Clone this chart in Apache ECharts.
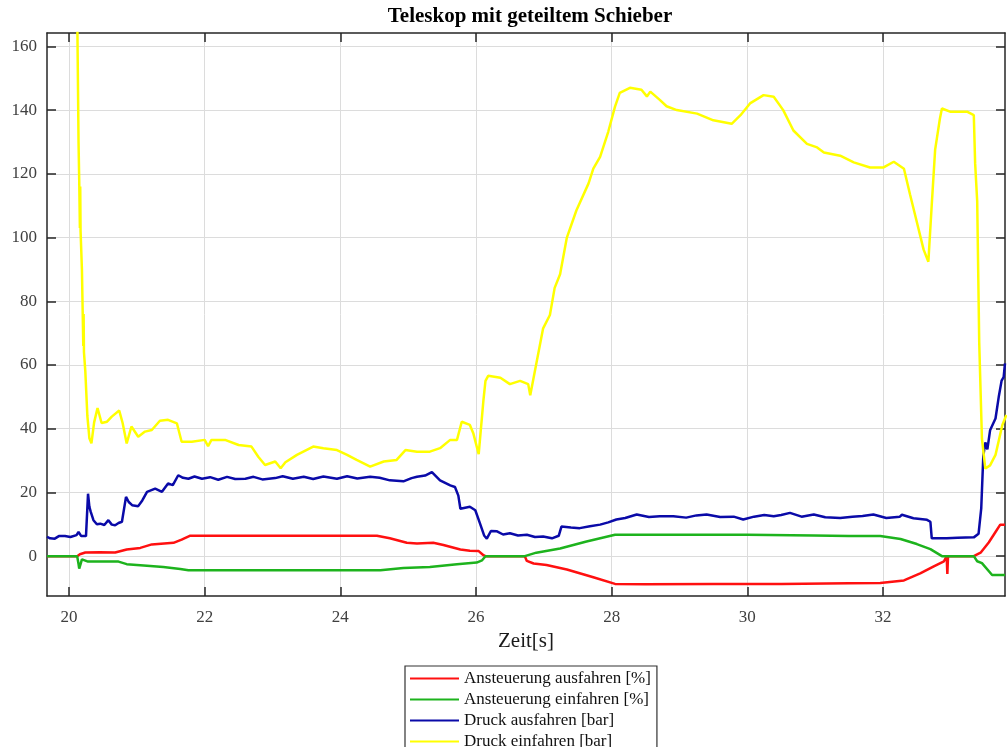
<!DOCTYPE html>
<html>
<head>
<meta charset="utf-8">
<script src="https://cdn.jsdelivr.net/npm/echarts@6/dist/echarts.min.js"></script>
<style>
html,body{margin:0;padding:0;background:#fff;}
#chart{width:1007px;height:747px;}
</style>
</head>
<body>
<div id="chart"></div>
<script>
const titleText = 'Teleskop mit geteiltem Schieber';
const xAxisName = 'Zeit[s]';
const seriesNames = ['Ansteuerung ausfahren [%]', 'Ansteuerung einfahren [%]', 'Druck ausfahren [bar]', 'Druck einfahren [bar]'];
const xTicks = [20, 22, 24, 26, 28, 30, 32];
const yTicks = [0, 20, 40, 60, 80, 100, 120, 140, 160];
const xRange = [19.675, 33.8];
const yRange = [-12.5, 164.2];

const redData = [[19.675,0],[20.12,0],[20.16,0.6],[20.24,1.15],[20.45,1.2],[20.68,1.15],[20.85,2.1],[21.05,2.6],[21.22,3.7],[21.54,4.2],[21.66,5.2],[21.78,6.4],[22.5,6.4],[23.5,6.4],[24.54,6.4],[24.73,5.6],[24.98,4.2],[25.13,4.0],[25.37,4.2],[25.52,3.5],[25.77,2.1],[25.91,1.7],[26.04,1.6],[26.11,0.3],[26.14,0],[26.72,0],[26.75,-1.5],[26.85,-2.3],[27.04,-2.8],[27.34,-4.2],[27.73,-6.6],[28.05,-8.7],[28.5,-8.8],[29.5,-8.7],[30.5,-8.7],[31.5,-8.5],[31.96,-8.4],[32.31,-7.6],[32.55,-5.4],[32.75,-3.2],[32.9,-1.6],[32.94,0],[32.95,-5.6],[32.96,0],[33.34,0],[33.44,1.1],[33.56,4.3],[33.66,7.6],[33.73,9.9],[33.8,9.9]];

const greenData = [[19.675,0],[20.12,0],[20.14,-2.5],[20.15,-3.9],[20.17,-2.5],[20.19,-1.0],[20.28,-1.7],[20.73,-1.7],[20.85,-2.5],[21.1,-2.9],[21.39,-3.4],[21.64,-4.0],[21.76,-4.4],[22.5,-4.4],[23.5,-4.4],[24.59,-4.4],[24.93,-3.7],[25.32,-3.4],[25.72,-2.5],[26.01,-2.0],[26.09,-1.3],[26.14,0],[26.72,0],[26.89,1.1],[27.24,2.4],[27.63,4.6],[28.05,6.7],[29.0,6.7],[30.0,6.7],[30.98,6.5],[31.5,6.3],[31.96,6.3],[32.26,5.4],[32.5,3.8],[32.7,2.2],[32.87,0],[33.34,0],[33.39,-1.6],[33.46,-2.2],[33.61,-5.9],[33.8,-5.9]];

const blueData = [[19.675,6.1],[19.72,5.6],[19.79,5.5],[19.85,6.3],[19.94,6.3],[20.02,6.0],[20.11,6.6],[20.14,7.6],[20.18,6.3],[20.25,6.3],[20.28,19.6],[20.30,15.5],[20.32,13.9],[20.36,11.3],[20.41,10.0],[20.46,10.2],[20.52,9.8],[20.58,11.3],[20.63,9.9],[20.68,9.7],[20.73,10.4],[20.78,10.8],[20.84,18.6],[20.88,17.0],[20.93,16.0],[21.02,15.7],[21.08,17.5],[21.15,20.2],[21.27,21.2],[21.37,20.2],[21.46,22.8],[21.53,22.3],[21.61,25.4],[21.68,24.6],[21.76,24.3],[21.85,25.0],[21.96,24.3],[22.08,24.8],[22.2,24.0],[22.33,24.9],[22.45,24.2],[22.6,24.3],[22.72,24.9],[22.85,24.1],[23.04,24.5],[23.15,25.1],[23.3,24.3],[23.46,24.9],[23.6,24.2],[23.75,25.0],[23.95,24.3],[24.1,25.1],[24.25,24.4],[24.44,24.9],[24.58,24.6],[24.73,23.8],[24.93,23.5],[25.05,24.5],[25.13,24.9],[25.25,25.3],[25.35,26.4],[25.47,23.8],[25.62,22.2],[25.69,21.7],[25.74,19.0],[25.77,14.9],[25.91,15.5],[25.99,14.4],[26.06,10.2],[26.12,6.5],[26.16,5.5],[26.22,7.9],[26.31,7.8],[26.4,6.8],[26.5,7.2],[26.62,6.5],[26.75,6.7],[26.87,6.0],[26.99,6.2],[27.12,5.6],[27.22,6.4],[27.26,9.3],[27.4,9.0],[27.53,8.8],[27.68,9.4],[27.83,9.9],[27.95,10.6],[28.07,11.5],[28.2,12.0],[28.37,13.1],[28.55,12.3],[28.71,12.5],[28.91,12.5],[29.1,12.1],[29.25,12.8],[29.4,13.1],[29.6,12.3],[29.8,12.4],[29.94,11.5],[30.1,12.4],[30.25,12.9],[30.39,12.5],[30.5,12.9],[30.63,13.6],[30.8,12.4],[30.98,13.1],[31.15,12.2],[31.37,12.0],[31.55,12.4],[31.7,12.6],[31.86,13.1],[32.05,12.0],[32.25,12.4],[32.28,13.0],[32.45,11.9],[32.65,11.4],[32.70,10.8],[32.72,5.6],[32.94,5.6],[33.1,5.8],[33.34,5.9],[33.41,7.0],[33.45,15.1],[33.48,31.4],[33.51,35.7],[33.54,33.5],[33.58,39.5],[33.66,43.2],[33.71,50.3],[33.75,55.1],[33.78,56.2],[33.8,60.5]];

const yellowData = [[20.12,172],[20.14,130],[20.15,118],[20.16,103],[20.165,116],[20.17,102],[20.19,90],[20.21,66],[20.215,76],[20.22,64],[20.24,58],[20.27,44],[20.3,37],[20.33,35.4],[20.37,42],[20.42,46.5],[20.48,41.8],[20.56,42.2],[20.63,43.8],[20.74,45.7],[20.79,41.8],[20.85,35.4],[20.92,40.7],[21.02,37.5],[21.12,39.1],[21.22,39.6],[21.34,42.5],[21.46,42.8],[21.59,41.7],[21.66,35.9],[21.81,35.9],[22.0,36.5],[22.05,34.5],[22.1,36.5],[22.3,36.5],[22.5,34.9],[22.69,34.4],[22.79,31.2],[22.89,28.6],[23.04,29.7],[23.12,27.6],[23.19,29.5],[23.36,31.8],[23.6,34.4],[23.75,33.9],[23.95,33.3],[24.1,31.8],[24.24,30.2],[24.44,28.1],[24.64,29.7],[24.83,30.2],[24.96,33.3],[25.13,32.8],[25.32,32.8],[25.47,33.9],[25.62,36.5],[25.72,36.5],[25.79,42.2],[25.91,41.2],[25.96,38.6],[26.04,32],[26.11,49],[26.14,55],[26.18,56.6],[26.36,56],[26.5,54],[26.65,55],[26.77,54],[26.8,50.5],[26.89,60.5],[26.99,71.5],[27.09,75.7],[27.16,84.2],[27.24,88.5],[27.34,100],[27.48,108.5],[27.66,117],[27.73,121.6],[27.83,125.3],[27.95,133.2],[28.05,141.1],[28.12,145.4],[28.27,147],[28.44,146.4],[28.52,144.3],[28.57,145.8],[28.71,143.2],[28.81,141.2],[28.96,140],[29.26,138.9],[29.5,136.8],[29.77,135.7],[29.9,138.4],[30.04,142.1],[30.24,144.7],[30.39,144.2],[30.53,140],[30.68,133.6],[30.88,129.4],[31.03,128.3],[31.13,126.7],[31.37,125.7],[31.57,123.6],[31.81,122],[32.01,122],[32.16,123.8],[32.31,121.6],[32.4,113.5],[32.5,104.9],[32.6,96.2],[32.67,92.4],[32.72,110.3],[32.77,127.6],[32.84,137.3],[32.87,140.5],[32.99,139.5],[33.24,139.5],[33.34,138.4],[33.36,123.2],[33.39,111.4],[33.42,67],[33.46,36.8],[33.51,27.5],[33.58,28.5],[33.66,31.8],[33.76,41.1],[33.82,44.3]];

const seriesColors = ['#ff1010', '#1db31d', '#0a0aa8', '#ffff00'];
const seriesData = [redData, greenData, blueData, yellowData];

const serif = '"Liberation Serif", "DejaVu Serif", serif';
const axisColor = '#262626';

const chart = echarts.init(document.getElementById('chart'));

function xAx(pos, showLabel) {
  return {
    type: 'value', position: pos, min: xRange[0], max: xRange[1],
    axisLine: { show: true, onZero: false, lineStyle: { color: axisColor, width: 1.5 } },
    axisTick: { show: true, inside: true, length: 9, customValues: xTicks, lineStyle: { color: axisColor, width: 1.5 } },
    axisLabel: { show: showLabel, customValues: xTicks, margin: 13, fontFamily: serif, fontSize: 17, color: '#404040' },
    splitLine: { show: showLabel, lineStyle: { color: '#dcdcdc', width: 1 } },
    name: showLabel ? xAxisName : '', nameLocation: 'middle', nameGap: 35,
    nameTextStyle: { fontFamily: serif, fontSize: 21, color: '#1a1a1a' }
  };
}
function yAx(pos, showLabel) {
  return {
    type: 'value', position: pos, min: yRange[0], max: yRange[1],
    axisLine: { show: true, onZero: false, lineStyle: { color: axisColor, width: 1.5 } },
    axisTick: { show: true, inside: true, length: 9, customValues: yTicks, lineStyle: { color: axisColor, width: 1.5 } },
    axisLabel: { show: showLabel, customValues: yTicks, margin: 10, fontFamily: serif, fontSize: 17, color: '#404040' },
    splitLine: { show: showLabel, lineStyle: { color: '#dcdcdc', width: 1 } }
  };
}

chart.setOption({
  animation: false,
  backgroundColor: '#ffffff',
  grid: { left: 47, right: 2, top: 33, bottom: 151, containLabel: false },
  graphic: [{
    type: 'text', x: 530, y: 17,
    style: { text: titleText, align: 'center', verticalAlign: 'middle', textAlign: 'center', textVerticalAlign: 'middle',
             fontFamily: serif, fontWeight: 'bold', fontSize: 21, fill: '#000' }
  }],
  legend: {
    orient: 'vertical', left: 405, top: 666, height: 120,
    icon: 'rect', itemWidth: 49, itemHeight: 2, itemGap: 4,
    padding: [4, 6, 3, 5],
    borderColor: '#333', borderWidth: 1.2, backgroundColor: '#fff',
    textStyle: { fontFamily: serif, fontSize: 17, color: '#111' },
    data: seriesNames
  },
  xAxis: [xAx('bottom', true), xAx('top', false)],
  yAxis: [yAx('left', true), yAx('right', false)],
  series: seriesNames.map((n, i) => ({
    name: n, type: 'line', xAxisIndex: 0, yAxisIndex: 0,
    data: seriesData[i], symbol: 'none', clip: true,
    lineStyle: { color: seriesColors[i], width: 2.5 },
    itemStyle: { color: seriesColors[i] }
  }))
});
</script>
</body>
</html>
